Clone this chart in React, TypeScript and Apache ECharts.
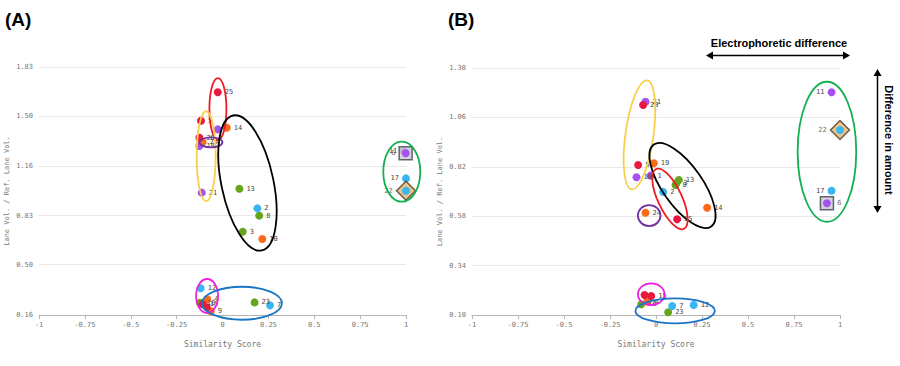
import { useEffect, useRef } from "react";
import * as echarts from "echarts";

// ---------- data ----------
const X_TICK_MIN = -1;
const X_TICK_MAX = 1;
const X_TICK_STEP = 0.25;
const A_Y_TICKS = [0.16, 0.5, 0.83, 1.16, 1.5, 1.83];
const A_Y_LABELS = ["0.16", "0.50", "0.83", "1.16", "1.50", "1.83"];
const B_Y_TICKS = [0.1, 0.34, 0.58, 0.82, 1.06, 1.3];
const B_Y_LABELS = ["0.10", "0.34", "0.58", "0.82", "1.06", "1.30"];

// [similarity, lane vol ratio, lane]
const A_RED = [[-0.026, 1.66, "25"], [-0.117, 1.468, "5"], [-0.126, 1.354, "20"], [-0.108, 0.232, "15"], [-0.086, 0.212, ""]];
const A_ORANGE = [[0.023, 1.421, "14"], [-0.108, 1.325, "24"], [0.217, 0.672, "10"], [-0.083, 0.266, "4"], [-0.064, 0.185, "9"]];
const A_PURPLE = [[-0.026, 1.41, ""], [-0.126, 1.298, "18"], [-0.113, 0.984, "21"], [0.99, 1.262, "11"]];
const A_BLUE = [[0.19, 0.878, "2"], [-0.119, 0.34, "12"], [0.259, 0.225, "7"], [1.0, 1.08, "17"]];
const A_GREEN = [[0.092, 1.01, "13"], [0.2, 0.829, "8"], [0.11, 0.721, "3"], [0.175, 0.245, "23"], [-0.123, 0.243, "16"]];
const A_SQUARE = [[0.998, 1.249, "6"]];
const A_DIAMOND = [[1.0, 0.997, "22"]];

const B_RED = [[-0.07, 1.12, "20"], [-0.097, 0.829, "5"], [0.115, 0.565, "25"], [-0.062, 0.197, ""], [-0.026, 0.192, "15"]];
const B_ORANGE = [[-0.012, 0.837, "19"], [0.278, 0.621, "14"], [-0.057, 0.597, "24"], [-0.048, 0.165, "4"]];
const B_PURPLE = [[-0.057, 1.136, "21"], [-0.106, 0.769, "18"], [-0.03, 0.777, "1"], [0.954, 1.182, "11"]];
const B_BLUE = [[0.039, 0.698, "2"], [0.088, 0.144, "7"], [0.205, 0.149, "12"], [0.954, 0.704, "17"]];
const B_GREEN = [[0.124, 0.756, "13"], [0.106, 0.732, "8"], [0.112, 0.742, "3"], [0.066, 0.113, "23"], [-0.08, 0.152, "16"]];
const B_SQUARE = [[0.929, 0.643, "6"]];
const B_DIAMOND = [[1.0, 0.999, "22"]];

// ellipse annotations: [centerX, centerY (data), rx px, ry px, rotation deg, colour key]
const A_ELLIPSES = [
  [-0.025, 1.547, 8.5, 31, 0, "red"],
  [-0.089, 1.229, 9.5, 45, 0, "yellow"],
  [-0.063, 1.323, 11.5, 5, 0, "purple"],
  [0.136, 1.049, 26, 69, 12, "black"],
  [-0.084, 0.288, 11, 17, 0, "magenta"],
  [0.106, 0.239, 40, 16.5, 0, "blue"],
  [0.977, 1.125, 18.5, 30, 0, "green"],
];
const B_ELLIPSES = [
  [-0.09, 0.975, 14, 55, -8, "yellow"],
  [0.144, 0.729, 50, 20, -55, "black"],
  [0.076, 0.664, 33, 12, -65, "red"],
  [-0.037, 0.583, 11.3, 10.5, 0, "purple"],
  [-0.026, 0.201, 13.3, 10.8, 0, "magenta"],
  [0.104, 0.12, 39.7, 12.5, 0, "blue"],
  [0.929, 0.893, 29.3, 70, 0, "green"],
];

// ---------- styles ----------
const DOT = {
  red: "#e8183f",
  orange: "#fb6a1a",
  purple: "#a651f0",
  blue: "#38b6f0",
  green: "#67a51c",
};
const RING = {
  red: "#ee1c25",
  yellow: "#f9cf4a",
  purple: "#7030a0",
  black: "#000000",
  magenta: "#f01ee0",
  blue: "#1a75c4",
  green: "#12b04f",
};
const MONO = "DejaVu Sans Mono";
const GRIDS = [
  { left: 39, top: 67, width: 367, height: 248 },
  { left: 472, top: 68, width: 368, height: 247 },
];

function pointData(arr: any[], panel: number) {
  return arr.map((d) => {
    const toLeft = d[0] > 0.9 && !(panel === 1 && d[2] === "6");
    return {
      value: [d[0], d[1]],
      name: d[2],
      label: { position: toLeft ? "left" : "right" },
    };
  });
}

function dotSeries(arr: any[], color: string, panel: number, z = 3, size = 8, showLabel = true) {
  return {
    type: "scatter",
    xAxisIndex: panel,
    yAxisIndex: panel,
    symbol: "circle",
    symbolSize: size,
    z,
    itemStyle: { color, opacity: 1 },
    label: {
      show: showLabel,
      formatter: (p: any) => p.name,
      fontFamily: MONO,
      fontSize: 7,
      color: "#444",
      distance: 3,
    },
    emphasis: { disabled: true },
    data: pointData(arr, panel),
  };
}

function specialSeries(arr: any[], panel: number, kind: string) {
  const isDiamond = kind === "diamond";
  return {
    type: "scatter",
    xAxisIndex: panel,
    yAxisIndex: panel,
    symbol: isDiamond ? "diamond" : "rect",
    symbolSize: isDiamond ? [19, 19] : [13, 13],
    z: 4,
    itemStyle: {
      color: isDiamond ? "#e3b56f" : "#c8c8d0",
      borderColor: isDiamond ? "#4a3a22" : "#3d4450",
      borderWidth: 1.5,
    },
    label: {
      show: true,
      formatter: (p: any) => p.name,
      fontFamily: MONO,
      fontSize: 7,
      color: "#444",
      distance: 3,
    },
    emphasis: { disabled: true },
    data: pointData(arr, panel),
  };
}

function xAxis(panel: number) {
  return {
    type: "value",
    gridIndex: panel,
    min: X_TICK_MIN,
    max: X_TICK_MAX,
    interval: X_TICK_STEP,
    name: "Similarity Score",
    nameLocation: "middle",
    nameGap: 25,
    nameTextStyle: { fontFamily: MONO, fontSize: 8, color: "#777" },
    axisLine: { show: true, lineStyle: { color: "#b5b5b5", width: 1 } },
    axisTick: { show: true, length: 4, lineStyle: { color: "#b5b5b5" } },
    axisLabel: { fontFamily: MONO, fontSize: 7, color: "#777", margin: 6 },
    splitLine: { show: false },
  };
}

function yAxis(panel: number, ticks: number[], labels: string[]) {
  return {
    type: "value",
    gridIndex: panel,
    min: ticks[0],
    max: ticks[ticks.length - 1],
    name: "Lane Vol. / Ref. Lane Vol.",
    nameLocation: "middle",
    nameGap: 29,
    nameTextStyle: { fontFamily: MONO, fontSize: 7, color: "#777" },
    axisLine: { show: false },
    axisTick: { show: false, customValues: ticks },
    axisLabel: {
      customValues: ticks,
      fontFamily: MONO,
      fontSize: 7,
      color: "#777",
      margin: 6,
      formatter: (v: number) => {
        const i = ticks.findIndex((t) => Math.abs(t - v) < 1e-6);
        return i >= 0 ? labels[i] : "";
      },
    },
    splitLine: { show: true, lineStyle: { color: "#e8e8e8", width: 1 } },
  };
}

function arrowHead(x: number, y: number, dir: string) {
  const s = 4;
  const pts =
    dir === "left" ? [[x, y], [x + 7, y - s], [x + 7, y + s]] :
    dir === "right" ? [[x, y], [x - 7, y - s], [x - 7, y + s]] :
    dir === "up" ? [[x, y], [x - s, y + 7], [x + s, y + 7]] :
    [[x, y], [x - s, y - 7], [x + s, y - 7]];
  return { type: "polygon", shape: { points: pts }, style: { fill: "#000" }, silent: true };
}

export default function App() {
  const ref = useRef<HTMLDivElement>(null);

  useEffect(() => {
    if (!ref.current) return;
    const chart = echarts.init(ref.current, undefined, { renderer: "svg" });

    const series: any[] = [];
    const panels = [
      { red: A_RED, orange: A_ORANGE, purple: A_PURPLE, blue: A_BLUE, green: A_GREEN, sq: A_SQUARE, di: A_DIAMOND },
      { red: B_RED, orange: B_ORANGE, purple: B_PURPLE, blue: B_BLUE, green: B_GREEN, sq: B_SQUARE, di: B_DIAMOND },
    ];
    panels.forEach((p, i) => {
      series.push(dotSeries(p.green, DOT.green, i));
      series.push(dotSeries(p.blue, DOT.blue, i));
      series.push(dotSeries(p.purple, DOT.purple, i));
      series.push(dotSeries(p.orange, DOT.orange, i));
      series.push(dotSeries(p.red, DOT.red, i));
      series.push(specialSeries(p.sq, i, "square"));
      series.push(dotSeries(p.sq, DOT.purple, i, 5, 8, false));
      series.push(specialSeries(p.di, i, "diamond"));
      series.push(dotSeries(p.di, DOT.blue, i, 5, 8, false));
    });

    chart.setOption({
      animation: false,
      grid: GRIDS,
      xAxis: [xAxis(0), xAxis(1)],
      yAxis: [yAxis(0, A_Y_TICKS, A_Y_LABELS), yAxis(1, B_Y_TICKS, B_Y_LABELS)],
      series,
    });

    const graphics: any[] = [];
    [A_ELLIPSES, B_ELLIPSES].forEach((list, i) => {
      list.forEach((e: any) => {
        const pt = chart.convertToPixel({ gridIndex: i }, [e[0], e[1]]) as number[];
        graphics.push({
          type: "ellipse",
          x: pt[0],
          y: pt[1],
          rotation: (e[4] * Math.PI) / 180,
          shape: { cx: 0, cy: 0, rx: e[2], ry: e[3] },
          style: { fill: "none", stroke: (RING as any)[e[5]], lineWidth: 1.8 },
          z: 10,
          silent: true,
        });
      });
    });

    // panel titles
    graphics.push({
      type: "text", left: 5, top: 10,
      style: { text: "(A)", fontFamily: "Liberation Sans", fontWeight: "bold", fontSize: 19, fill: "#000" },
    });
    graphics.push({
      type: "text", left: 448, top: 10,
      style: { text: "(B)", fontFamily: "Liberation Sans", fontWeight: "bold", fontSize: 19, fill: "#000" },
    });
    // horizontal arrow
    graphics.push({
      type: "text", x: 779, y: 43,
      style: { text: "Electrophoretic difference", fontFamily: "Liberation Sans", fontWeight: "bold", fontSize: 11, fill: "#000", align: "center", verticalAlign: "middle" },
    });
    graphics.push({ type: "line", shape: { x1: 708, y1: 55.5, x2: 848, y2: 55.5 }, style: { stroke: "#000", lineWidth: 1.5 }, silent: true });
    graphics.push(arrowHead(706, 55.5, "left"));
    graphics.push(arrowHead(850, 55.5, "right"));
    // vertical arrow
    graphics.push({ type: "line", shape: { x1: 877.5, y1: 72, x2: 877.5, y2: 210 }, style: { stroke: "#000", lineWidth: 1.5 }, silent: true });
    graphics.push(arrowHead(877.5, 69, "up"));
    graphics.push(arrowHead(877.5, 213, "down"));
    graphics.push({
      type: "text", x: 889, y: 140, rotation: -Math.PI / 2,
      style: { text: "Difference in amount", fontFamily: "Liberation Sans", fontWeight: "bold", fontSize: 11, fill: "#000", align: "center", verticalAlign: "middle" },
    });

    chart.setOption({ graphic: graphics });

    return () => chart.dispose();
  }, []);

  return <div ref={ref} style={{ width: 900, height: 366, position: "absolute", left: 0, top: 0, background: "#fff" }} />;
}
